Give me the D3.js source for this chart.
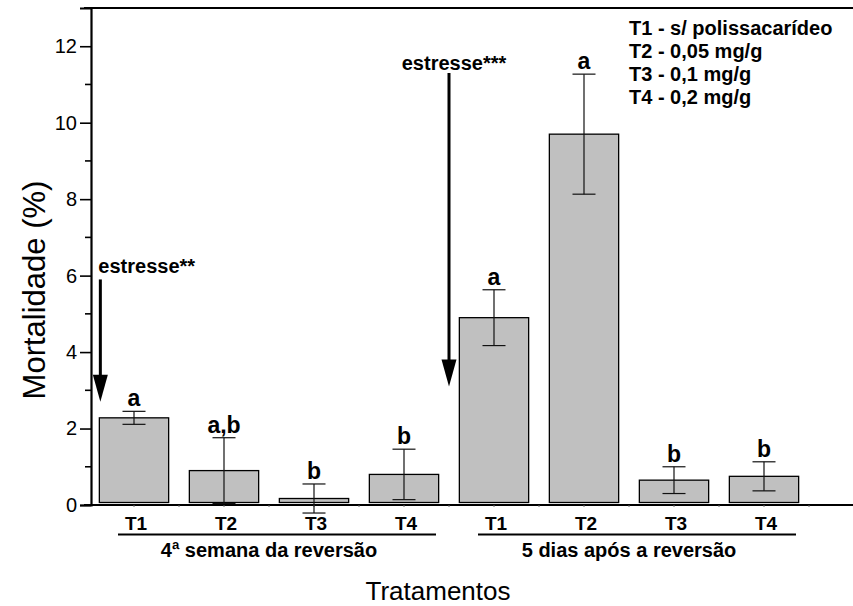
<!DOCTYPE html>
<html><head><meta charset="utf-8">
<script src="https://cdn.jsdelivr.net/npm/d3@7"></script>
<style>body{margin:0;background:#fff}svg{display:block}text{font-family:"Liberation Sans",Arial,sans-serif}</style>
</head><body>
<svg id="c" width="853" height="606"></svg>
<script>
const ids = ["g1T1","g1T2","g1T3","g1T4","g2T1","g2T2","g2T3","g2T4"];
const tickLabels = ["T1","T2","T3","T4","T1","T2","T3","T4"];
const means = [2.28, 0.90, 0.17, 0.80, 4.90, 9.70, 0.65, 0.75];
const errs  = [0.17, 0.86, 0.38, 0.66, 0.73, 1.57, 0.35, 0.38];
const letters = ["a","a,b","b","b","a","a","b","b"];
const groups = [{label:"4ª semana da reversão", members:["g1T1","g1T4"]},
                {label:"5 dias após a reversão", members:["g2T1","g2T4"]}];
const legendLines = ["T1 - s/ polissacarídeo","T2 - 0,05 mg/g","T3 - 0,1 mg/g","T4 - 0,2 mg/g"];
const yTicks = [0,2,4,6,8,10,12];
const yMinor = [1,3,5,7,9,11];
const arrows = [{label:"estresse**", textVal:6.08, top:5.9, tip:2.7},
                {label:"estresse***", textVal:11.38, top:11.3, tip:3.1}];

const svg = d3.select("#c");
const y = d3.scaleLinear().domain([0,13]).range([505,8]);
const x = d3.scaleBand().domain(ids).range([89,809]).paddingInner(0.23).paddingOuter(0.115);
const cx = id => x(id) + x.bandwidth()/2;

// frame lines
svg.append("line").attr("x1",84).attr("x2",853).attr("y1",y(13)).attr("y2",y(13)).attr("stroke","#000").attr("stroke-width",2);
svg.append("line").attr("x1",84).attr("x2",853).attr("y1",y(0)).attr("y2",y(0)).attr("stroke","#000").attr("stroke-width",2);

// y axis
const yAxis = d3.axisLeft(y).tickValues(yTicks).tickSize(11).tickPadding(3).tickFormat(d3.format("d"));
const ga = svg.append("g").attr("transform","translate(91,0)").call(yAxis);
ga.select(".domain").attr("stroke-width",2.2);
ga.selectAll(".tick line").attr("stroke-width",1.6);
ga.selectAll(".tick text").attr("font-size",20).attr("fill","#000").attr("font-family","Liberation Sans, Arial, sans-serif");
svg.append("g").selectAll("line").data(yMinor).join("line")
  .attr("x1",85).attr("x2",91).attr("y1",d=>y(d)).attr("y2",d=>y(d)).attr("stroke","#000").attr("stroke-width",1.6);

// small x ticks
const xt = [];
ids.forEach(id=>{xt.push(cx(id)); xt.push(x(id)+x.bandwidth()+ (x.step()-x.bandwidth())/2);});
svg.append("g").selectAll("line").data(xt).join("line")
  .attr("x1",d=>d).attr("x2",d=>d).attr("y1",y(0)).attr("y2",y(0)+2).attr("stroke","#666").attr("stroke-width",1);

// bars
svg.append("g").selectAll("rect").data(ids).join("rect")
  .attr("x",d=>x(d)).attr("width",x.bandwidth())
  .attr("y",(d,i)=>y(means[i])).attr("height",(d,i)=>y(0)-2.5-y(means[i]))
  .attr("fill","#c0c0c0").attr("stroke","#000").attr("stroke-width",1.3);

// error bars
const eb = svg.append("g").attr("stroke","#111").attr("stroke-width",1.2);
ids.forEach((id,i)=>{
  const c = cx(id), hi=y(means[i]+errs[i]), lo=y(means[i]-errs[i]);
  eb.append("line").attr("x1",c).attr("x2",c).attr("y1",hi).attr("y2",lo);
  eb.append("line").attr("x1",c-11.5).attr("x2",c+11.5).attr("y1",hi).attr("y2",hi);
  eb.append("line").attr("x1",c-11.5).attr("x2",c+11.5).attr("y1",lo).attr("y2",lo);
});

// letters
svg.append("g").selectAll("text").data(ids).join("text")
  .attr("x",d=>cx(d)).attr("y",(d,i)=>y(means[i]+errs[i])-5)
  .attr("text-anchor","middle").attr("font-size",23).attr("font-weight","bold").text((d,i)=>letters[i]);

// x tick labels
svg.append("g").selectAll("text").data(ids).join("text")
  .attr("x",d=>cx(d)+2).attr("y",530).attr("text-anchor","middle")
  .attr("font-size",19).attr("font-weight","bold").text((d,i)=>tickLabels[i]);

// group lines and labels
groups.forEach(g=>{
  const a = cx(g.members[0])-16, b = cx(g.members[1])+32;
  svg.append("line").attr("x1",a).attr("x2",b).attr("y1",534.5).attr("y2",534.5).attr("stroke","#000").attr("stroke-width",2);
  svg.append("text").attr("x",(a+b)/2-8).attr("y",557).attr("text-anchor","middle")
    .attr("font-size",20).attr("font-weight","bold").text(g.label);
});

// arrows
const ax = [x(ids[0])+1, (x(ids[3])+x.bandwidth()+x(ids[4]))/2];
arrows.forEach((a,i)=>{
  const xx = ax[i], tip=y(a.tip), headTop = tip-27;
  svg.append("line").attr("x1",xx).attr("x2",xx).attr("y1",y(a.top)).attr("y2",headTop+2).attr("stroke","#000").attr("stroke-width",3);
  svg.append("path").attr("d",`M${xx-7.5},${headTop}L${xx+7.5},${headTop}L${xx},${tip}Z`).attr("fill","#000");
  svg.append("text").attr("x", i===0? xx-2 : xx+5).attr("y",y(a.textVal))
    .attr("text-anchor", i===0? "start":"middle").attr("font-size",20).attr("font-weight","bold").text(a.label);
});

// legend
svg.append("g").selectAll("text").data(legendLines).join("text")
  .attr("x",629).attr("y",(d,i)=>35+i*23).attr("font-size",20).attr("font-weight","bold").text(d=>d);

// axis titles
svg.append("text").attr("transform","translate(45,290) rotate(-90)").attr("text-anchor","middle")
  .attr("font-size",31).text("Mortalidade (%)");
svg.append("text").attr("x",438).attr("y",600).attr("text-anchor","middle")
  .attr("font-size",26).text("Tratamentos");
</script>
</body></html>
